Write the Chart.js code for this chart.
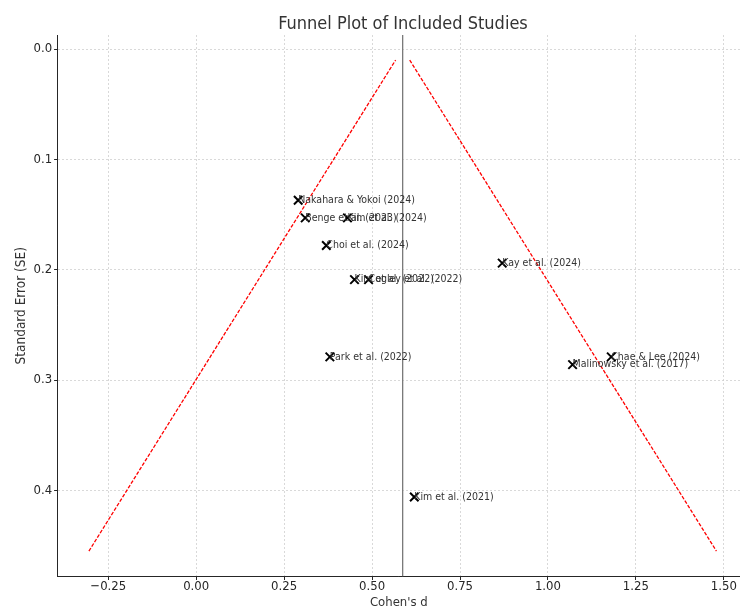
<!DOCTYPE html>
<html>
<head>
<meta charset="utf-8">
<script src="https://cdn.jsdelivr.net/npm/chart.js@4.4.1/dist/chart.umd.min.js"></script>
<style>
  html, body { margin: 0; padding: 0; background: #ffffff; }
  #wrap { width: 740px; height: 608px; }
</style>
</head>
<body>
<div id="wrap"><canvas id="funnel" width="740" height="608"></canvas></div>
<script>
// Included studies: effect size (Cohen's d) and its standard error
const studies = [
  'Nakahara & Yokoi (2024)', 'Benge et al. (2023)', 'Kim et al. (2024)',
  'Choi et al. (2024)', 'Kim et al. (2022)', 'Cogley et al. (2022)',
  'Kay et al. (2024)', 'Park et al. (2022)', 'Chae & Lee (2024)',
  'Malinowsky et al. (2017)', 'Kim et al. (2021)'
];
const cohensD = [0.29, 0.31, 0.43, 0.37, 0.45, 0.49, 0.87, 0.38, 1.18, 1.07, 0.62];
const standardErrors = [0.137, 0.153, 0.153, 0.178, 0.209, 0.209, 0.194, 0.279, 0.279, 0.286, 0.406];

// Pooled effect and the 95% pseudo-confidence funnel (d, SE) end points
const pooledD = 0.587;
const funnelLeft = [[-0.305, 0.455], [0.567, 0.010]];
const funnelRight = [[0.607, 0.010], [1.479, 0.455]];

// Axis ranges and tick values
const xRange = [-0.394, 1.546];
const yRange = [-0.0127, 0.478];
const xTicks = [-0.25, 0, 0.25, 0.5, 0.75, 1, 1.25, 1.5];
const yTicks = [0, 0.1, 0.2, 0.3, 0.4];

const FONT = '"DejaVu Sans Condensed", "DejaVu Sans", sans-serif';
const TEXT = '#333333';
const AXIS = '#262626';

const toPoints = pairs => pairs.map(([x, y]) => ({ x, y }));

const overlay = {
  id: 'overlay',
  afterDatasetsDraw(chart) {
    const ctx = chart.ctx;
    const meta = chart.getDatasetMeta(3);
    ctx.save();
    ctx.font = '10.5px ' + FONT;
    ctx.fillStyle = TEXT;
    ctx.textAlign = 'left';
    ctx.textBaseline = 'middle';
    meta.data.forEach((pt, i) => ctx.fillText(studies[i], pt.x, pt.y));
    ctx.restore();
  },
  afterDraw(chart) {
    const ctx = chart.ctx;
    ctx.save();
    ctx.font = '18px ' + FONT;
    ctx.fillStyle = TEXT;
    ctx.textAlign = 'center';
    ctx.textBaseline = 'alphabetic';
    ctx.fillText('Funnel Plot of Included Studies', 403, 29);
    ctx.restore();
  }
};

// keep the plot box fixed: no extra room for overhanging tick labels
const noOverhang = s => { s.paddingLeft = 0; s.paddingRight = 0; s.paddingTop = 0; s.paddingBottom = 0; };

new Chart(document.getElementById('funnel'), {
  type: 'scatter',
  data: {
    datasets: [
      {
        data: toPoints(funnelLeft), showLine: true, borderColor: '#ff0000',
        borderWidth: 1.3, borderDash: [3.7, 1.6], pointRadius: 0, fill: false
      },
      {
        data: toPoints(funnelRight), showLine: true, borderColor: '#ff0000',
        borderWidth: 1.3, borderDash: [3.7, 1.6], pointRadius: 0, fill: false
      },
      {
        data: [{ x: pooledD, y: yRange[0] }, { x: pooledD, y: yRange[1] }],
        showLine: true, borderColor: '#7a7a7a', borderWidth: 1.3, pointRadius: 0, fill: false
      },
      {
        data: cohensD.map((d, i) => ({ x: d, y: standardErrors[i] })),
        pointStyle: 'crossRot', pointRadius: 6, pointBorderWidth: 2,
        pointBorderColor: '#000000', pointBackgroundColor: '#000000', showLine: false
      }
    ]
  },
  options: {
    responsive: false,
    animation: false,
    devicePixelRatio: 1,
    layout: { autoPadding: false, padding: { top: 35, left: 0, right: 0, bottom: 0 } },
    plugins: { legend: { display: false }, tooltip: { enabled: false } },
    scales: {
      x: {
        type: 'linear',
        min: xRange[0], max: xRange[1],
        afterBuildTicks: s => { s.ticks = xTicks.map(v => ({ value: v })); },
        afterFit: s => { s.height = 31.5; noOverhang(s); },
        ticks: {
          font: { family: FONT, size: 13 }, color: AXIS, padding: -1,
          callback: v => (v < 0 ? '\u2212' + Math.abs(v).toFixed(2) : v.toFixed(2))
        },
        grid: { color: '#d0d0d0', lineWidth: 0.8, tickColor: AXIS, tickLength: 3.5, tickWidth: 1, tickBorderDash: [] },
        border: { display: true, color: AXIS, width: 1, dash: [2, 2] },
        title: {
          display: true, text: "Cohen's d", color: TEXT,
          font: { family: FONT, size: 13, lineHeight: 1 }, padding: { top: 0, bottom: -1 }
        }
      },
      y: {
        type: 'linear',
        reverse: true,
        min: yRange[0], max: yRange[1],
        afterBuildTicks: s => { s.ticks = yTicks.map(v => ({ value: v })); },
        afterFit: s => { s.width = 57.6; noOverhang(s); },
        ticks: {
          font: { family: FONT, size: 13 }, color: AXIS, padding: 2,
          callback: v => v.toFixed(1)
        },
        grid: { color: '#d0d0d0', lineWidth: 0.8, tickColor: AXIS, tickLength: 3.5, tickWidth: 1, tickBorderDash: [] },
        border: { display: true, color: AXIS, width: 1, dash: [2, 2] },
        title: {
          display: true, text: 'Standard Error (SE)', color: TEXT,
          font: { family: FONT, size: 13.5, lineHeight: 1 }, padding: { top: 15, bottom: 0 }
        }
      }
    }
  },
  plugins: [overlay]
});
</script>
</body>
</html>
